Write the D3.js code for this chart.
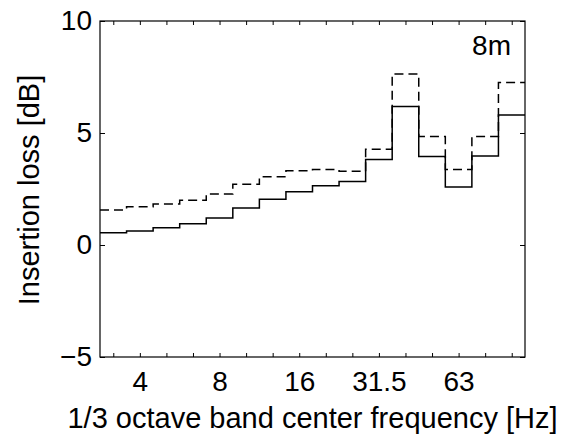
<!DOCTYPE html>
<meta charset="utf-8">
<script src="https://d3js.org/d3.v7.min.js"></script>
<style>
  body { margin: 0; background: #fff; }
  text { font-family: "Liberation Sans", Arial, sans-serif; }
</style>
<div id="chart"></div>
<script>

// 1/3 octave bands, 3.15 .. 100 Hz
const bands = ["3.15","4","5","6.3","8","10","12.5","16","20","25","31.5","40","50","63","80","100"];
const labelled = ["4","8","16","31.5","63"];
const solid  = [0.55,0.62,0.77,0.95,1.2,1.65,2.04,2.38,2.65,2.83,3.82,6.18,3.95,2.59,3.97,5.8];
const dashed = [1.56,1.71,1.83,2.0,2.28,2.71,3.05,3.32,3.37,3.29,4.27,7.63,4.84,3.37,4.84,7.25];
const yTicks = [-5, 0, 5, 10];

const W = 563, H = 435;
const margin = {top: 21, right: 38, bottom: 78, left: 100};
const width = W - margin.left - margin.right,
    height = H - margin.top - margin.bottom;

const svg = d3.select("#chart").append("svg")
    .attr("width", W).attr("height", H)
  .append("g")
    .attr("transform", `translate(${margin.left},${margin.top})`);

const x = d3.scaleLinear().domain([0, bands.length]).range([0, width]);
const y = d3.scaleLinear().domain([-5, 10]).range([height, 0]);

const centers = bands.map((b, i) => i + 0.5);

// axes, ticks inward like matlab
const xAxis = d3.axisBottom(x).tickValues(centers).tickSize(-4).tickPadding(14)
    .tickFormat((d) => { const b = bands[d - 0.5]; return labelled.includes(b) ? b : ""; });
const xTop = d3.axisTop(x).tickValues(centers).tickSize(-4).tickFormat("");
const yAxis = d3.axisLeft(y).tickValues(yTicks).tickSize(-5).tickPadding(8)
    .tickFormat(d => d < 0 ? "\u2212" + (-d) : d);
const yRight = d3.axisRight(y).tickValues(yTicks).tickSize(-5).tickFormat("");

function style(g) {
  g.select(".domain").remove();
  g.selectAll("line").attr("stroke", "#000");
  g.selectAll("text").attr("font-size", 28).attr("fill", "#000")
    .style("font-family", '"Liberation Sans", Arial, sans-serif');
}

svg.append("g").attr("transform", `translate(0,${height})`).call(xAxis).call(style);
svg.append("g").call(xTop).call(style);
svg.append("g").call(yAxis).call(style);
svg.append("g").attr("transform", `translate(${width},0)`).call(yRight).call(style);

// frame
svg.append("rect")
    .attr("x", 0).attr("y", 0).attr("width", width).attr("height", height)
    .attr("fill", "none").attr("stroke", "#000").attr("stroke-width", 1.2);

// step lines
const line = d3.line()
    .curve(d3.curveStepAfter)
    .x(d => x(d[0]))
    .y(d => y(d[1]));

function steps(vals) {
  const pts = vals.map((v, i) => [i, v]);
  pts.push([vals.length, vals[vals.length - 1]]);
  return pts;
}

svg.append("path")
    .datum(steps(dashed))
    .attr("fill", "none")
    .attr("stroke", "#000")
    .attr("stroke-width", 1.5)
    .attr("stroke-dasharray", "9,5")
    .attr("d", line);

svg.append("path")
    .datum(steps(solid))
    .attr("fill", "none")
    .attr("stroke", "#000")
    .attr("stroke-width", 1.5)
    .attr("d", line);

// labels
svg.append("text")
    .attr("x", width - 14).attr("y", 34)
    .attr("text-anchor", "end")
    .attr("font-size", 28)
    .text("8m");

svg.append("text")
    .attr("x", width / 2).attr("y", height + 71)
    .attr("text-anchor", "middle")
    .attr("font-size", 29)
    .text("1/3 octave band center frequency [Hz]");

svg.append("text")
    .attr("transform", `translate(-61.5,169) rotate(-90)`)
    .attr("text-anchor", "middle")
    .attr("font-size", 29)
    .text("Insertion loss [dB]");

</script>
